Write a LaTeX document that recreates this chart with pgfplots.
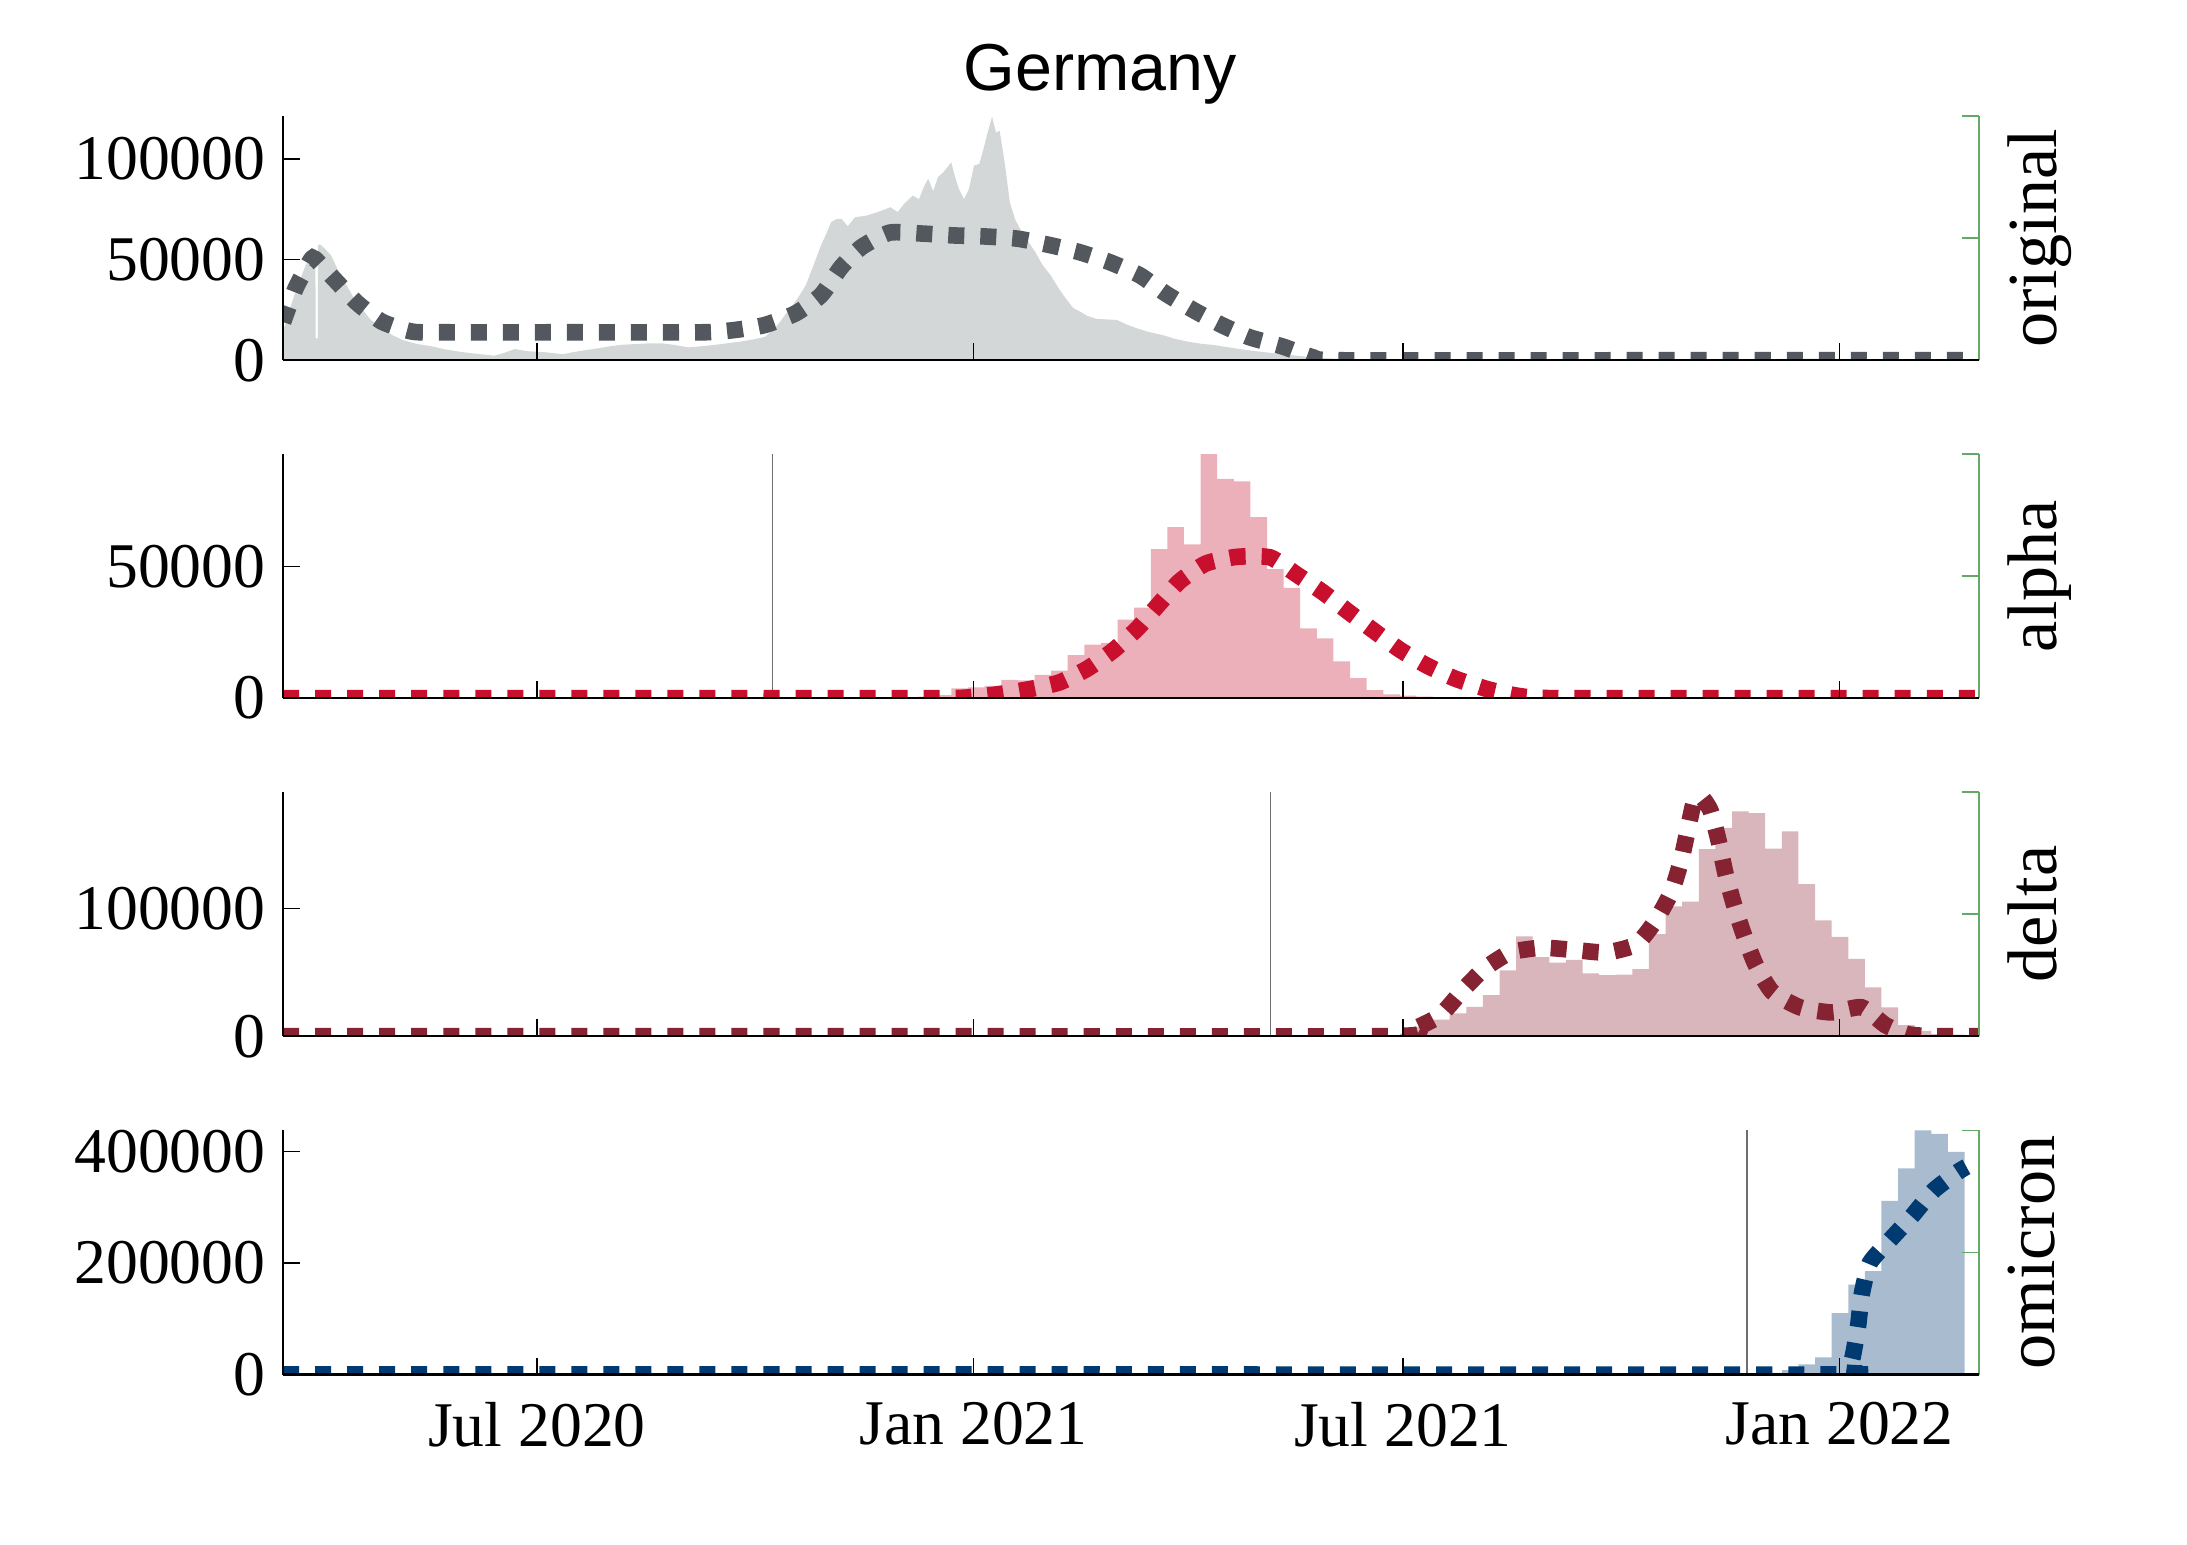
\documentclass[border=0pt]{standalone}
\usepackage{pgfplots}
\pgfplotsset{compat=1.18}
\usepackage{fontspec}
\setmainfont{Liberation Serif}
\newfontfamily\titlefont{Liberation Sans}
\definecolor{origBar}{RGB}{212,215,215}
\definecolor{origLine}{RGB}{82,88,94}
\definecolor{alphaBar}{RGB}{236,176,186}
\definecolor{alphaLine}{RGB}{200,16,46}
\definecolor{deltaBar}{RGB}{216,182,188}
\definecolor{deltaLine}{RGB}{134,35,51}
\definecolor{omiBar}{RGB}{169,188,207}
\definecolor{omiLine}{RGB}{0,58,112}
\definecolor{rightAx}{RGB}{100,170,100}
\definecolor{vline}{RGB}{110,110,110}

\newcommand\rightdeco[1]{%
  \draw[rightAx, line width=0.4pt] (rel axis cs:1,0) -- (rel axis cs:1,1);
  \draw[rightAx, line width=0.4pt] (rel axis cs:1,0.5) -- ([xshift=-4.3pt]rel axis cs:1,0.5);
  \draw[rightAx, line width=0.4pt] (rel axis cs:1,1) -- ([xshift=-4.3pt]rel axis cs:1,1);
  \node[rotate=90, anchor=north, inner sep=0pt, font=\fontsize{18}{20}\selectfont] at ([xshift=7.2pt]rel axis cs:1,0.5) {#1};
}

\pgfplotsset{
  panel/.style={
    scale only axis, width=434.3pt, height=62.5pt,
    xmin=75, xmax=789.9, ymin=0,
    axis x line*=bottom, axis y line*=left,
    x axis line style={line width=0.6pt, black},
    y axis line style={line width=0.35pt, black},
    tick align=inside, major tick length=4.3pt,
    every tick/.append style={black, line width=0.35pt},
    xtick={182,366,547,731}, xticklabels={},
    scaled y ticks=false,
    tick label style={font=\fontsize{16.3}{19}\selectfont},
    yticklabel style={inner sep=0pt, xshift=-4.35pt},
    xticklabel style={inner sep=0pt, yshift=-7pt},
    clip mode=individual, axis on top,
  },
  dotline/.style={line width=4.25pt, dash pattern=on 4.1pt off 4.1pt, smooth, tension=0.35},
}

\begin{document}
\begin{tikzpicture}
\useasboundingbox (-72.5pt,-43.46pt) rectangle (487.5pt,351.96pt);

% ---------- original ----------
\begin{axis}[panel, at={(0pt,259.7pt)}, ymax=121200,
  ytick={0,50000,100000}, yticklabels={0,50000,100000}]
\addplot[fill=origBar, draw=none] coordinates {
(75,15000) (75.8,17500) (78,26000) (80.2,34000) (82.5,41000) (84.5,47200) (86.5,52000)
(88.6,55500) (88.7,10900) (89.6,10900) (89.7,57000) (90.5,57600) (92.5,55500) (95.2,52100)
(98,45000) (101.7,37300) (105,30500) (108.1,25700) (112,20000) (116.7,15800) (121,12500)
(125.3,10100) (131,8200) (138.2,6800) (143,5500) (149,4300) (156,3300) (164,2300) (168,3600)
(172.6,5600) (178,4500) (185.6,4000) (193.1,3000) (197,4000) (202.8,5100) (208,6000)
(213.5,7100) (218,7700) (224.3,8100) (229,8400) (235,8400) (240,7600) (245.8,6400) (250,6800)
(256.5,7600) (262,8400) (267.3,9200) (273,10300) (278,11600) (281,14500) (284.5,19100)
(286.5,22500) (288.8,25700) (292,31000) (295.3,37300) (298.5,47000) (301.7,57100) (304,63000)
(306,68600) (308,70000) (310.3,70300) (313,66500) (316,71000) (321.1,71900) (324,73000)
(327.5,74400) (331,76000) (334,73600) (337,78000) (340.4,81800) (343,80000) (345,86000)
(346.9,90100) (349,84000) (351,91000) (353.3,93400) (356.6,98300) (358,92000) (359.8,85100)
(362,80000) (364.1,85100) (366.2,96700) (368.4,97500) (370,104000) (371.6,111500)
(373.8,121000) (375.5,113000) (377,114000) (379.1,98300) (381.3,78500) (383.5,70000)
(385.6,65300) (389,59000) (392,53800) (395,47500) (398.5,42200) (402,35500) (404.9,30700)
(408,26000) (411,24100) (414,22000) (417.9,20500) (422,20300) (426.5,20000) (431,17500)
(435.1,15800) (440,14000) (445.8,12500) (451,10600) (456.6,9200) (462,8200) (467.3,7600)
(473,6500) (478.1,5600) (483,4800) (488.8,4000) (494,3300) (499.6,2600) (505,1900)
(510.4,1300) (515,1000) (521.1,700) (540,500) (600,300) (680,400) (720,800) (740,600)
(760,300) (789.9,200)
} \closedcycle;
\addplot[origLine, dotline] coordinates {
(75,19000) (80.2,35600) (86.6,49700) (88.5,50300) (96.3,40600) (106,28700) (116.7,19100)
(129.6,14200) (143.6,13900) (200,13900) (252,13900) (265.1,15000) (278,17500) (291,23300)
(301.7,32300) (310.3,46400) (318.9,56300) (330.7,63400) (344.7,62900) (357.6,62000)
(370.5,61500) (384.5,60400) (397.4,57400) (410.3,53800) (423.2,48800) (436.1,42200)
(446.9,33200) (458.7,24900) (470.6,17500) (482.4,11400) (496.4,6800) (509.3,1400)
(521,0) (650,0) (789.9,0)
};
\rightdeco{original}
\end{axis}

% ---------- alpha ----------
\begin{axis}[panel, at={(0pt,173.2pt)}, ymax=92800,
  ytick={0,50000}, yticklabels={0,50000}]
\addplot[vline, line width=0.4pt] coordinates {(281.3,0) (281.3,92800)};
\addplot[const plot, fill=alphaBar, draw=none] coordinates {
(328.7,150) (335.7,300) (342.7,600) (349.7,1150) (356.7,3700) (363.7,4100) (370.7,4600)
(377.7,6900) (384.7,6700) (391.7,8800) (398.7,10400) (405.7,16300) (412.7,20300)
(419.7,21000) (426.7,29800) (433.7,34400) (440.7,56600) (447.7,65000) (454.7,58400)
(461.7,92800) (468.7,83300) (475.7,82400) (482.7,68800) (489.7,49000) (496.7,41900)
(503.7,26500) (510.7,22700) (517.7,14000) (524.7,7600) (531.7,3000) (538.7,1400)
(545.7,900) (552.7,600) (559.7,400) (566.7,250) (573.7,150) (580.7,100) (587.7,0)
} \closedcycle;
\addplot[alphaLine, dotline] coordinates {
(75,0) (250,0) (350,0) (362,150) (375,1300) (389,3300) (402,5900) (414,11200) (425,18200)
(435,26400) (444,35600) (453,44500) (464,51200) (477,53700) (491,53500) (502,47100)
(513,40400) (524,32800) (535,25400) (546,18200) (557,12400) (569,7400) (583,3300)
(596,800) (610,0) (700,0) (789.9,0)
};
\rightdeco{alpha}
\end{axis}

% ---------- delta ----------
\begin{axis}[panel, at={(0pt,86.64pt)}, ymax=191300,
  ytick={0,100000}, yticklabels={0,100000}]
\addplot[vline, line width=0.4pt] coordinates {(491.2,0) (491.2,191300)};
\addplot[const plot, fill=deltaBar, draw=none] coordinates {
(517.7,100) (524.7,200) (531.7,400) (538.7,800) (545.7,2000) (552.7,7100) (559.7,13000)
(566.7,17800) (573.7,23000) (580.7,32200) (587.7,51500) (594.7,78200) (601.7,62000)
(608.7,57600) (615.7,59700) (622.7,49200) (629.7,47800) (636.7,48200) (643.7,52500)
(650.7,80000) (657.7,101800) (664.7,105500) (671.7,146500) (678.7,163300) (685.7,176100)
(692.7,174700) (699.7,147000) (706.7,160400) (713.7,119100) (720.7,90800) (727.7,77800)
(734.7,60500) (741.7,38200) (748.7,22500) (755.7,8600) (762.7,4200) (769.7,1600)
(776.7,1100) (783.7,0)
} \closedcycle;
\addplot[deltaLine, dotline] coordinates {
(75,0) (300,0) (540,0) (550.6,5000) (562.5,16000) (571.6,34800) (581.1,52600) (592.3,65600)
(605.6,69300) (619.3,67500) (632.6,65600) (645.3,71900) (653.7,91100) (660.2,113300)
(664.2,137400) (667.1,162200) (669.6,183000) (672.5,188000) (676.6,177000) (680.1,152700)
(682.9,127800) (686.5,103300) (690.7,79400) (695.6,56200) (702.6,34800) (714.3,22600)
(727.6,18600) (740.3,22600) (750.4,8600) (760,1500) (770,0) (789.9,0)
};
\rightdeco{delta}
\end{axis}

% ---------- omicron ----------
\begin{axis}[panel, at={(0pt,0pt)}, ymax=437200,
  ytick={0,200000,400000}, yticklabels={0,200000,400000},
  xticklabels={Jul 2020,Jan 2021,Jul 2021,Jan 2022}]
\addplot[vline, line width=0.4pt] coordinates {(691.9,0) (691.9,437200)};
\addplot[const plot, fill=omiBar, draw=none] coordinates {
(692.7,1200) (699.7,3000) (706.7,7800) (713.7,18000) (720.7,30600) (727.7,109900)
(734.7,160900) (741.7,185000) (748.7,311000) (755.7,369300) (762.7,437200) (769.7,431200)
(776.7,398700) (783.7,0)
} \closedcycle;
\addplot[omiLine, dotline] coordinates {
(75,0) (400,0) (730,0) (733.5,4000) (736.3,27000) (738.8,85900) (740.4,144100)
(743.8,200000) (752.5,242000) (761.6,284000) (770.5,329000) (780.6,362000) (784.5,372000)
};
\rightdeco{omicron}
\end{axis}

\node[font=\titlefont\fontsize{17}{20}\selectfont, anchor=base] at (209.2pt,328.9pt) {Germany};
\end{tikzpicture}
\end{document}
